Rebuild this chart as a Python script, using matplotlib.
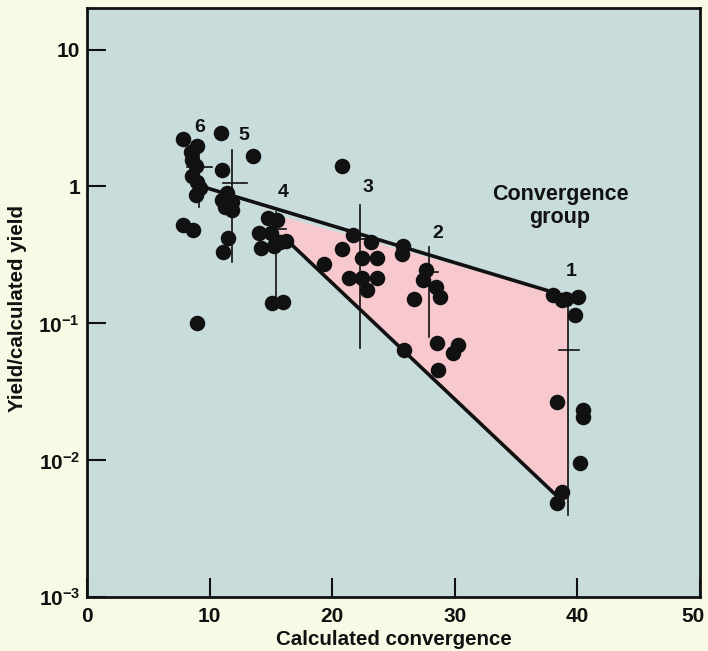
import matplotlib
matplotlib.use("Agg")
import matplotlib.pyplot as plt
import matplotlib.transforms as mtransforms
import numpy as np

plt.rcParams['font.family'] = ['Liberation Sans', 'DejaVu Sans']
plt.rcParams['font.weight'] = 'bold'
plt.rcParams['mathtext.fontset'] = 'custom'
plt.rcParams['mathtext.rm'] = 'Liberation Sans:bold'
plt.rcParams['mathtext.it'] = 'Liberation Sans:bold'
plt.rcParams['mathtext.bf'] = 'Liberation Sans:bold'

# ---- data ----
conv_x = [7.85, 10.91, 8.97, 8.48, 8.56, 8.89, 8.56, 8.97, 9.22, 8.89,
          10.99, 13.56, 11.39, 10.99, 11.80, 11.26, 11.80, 11.53, 11.12,
          7.83, 8.65, 8.95,
          14.76, 15.50, 14.03, 15.01, 16.23, 14.19, 15.25, 15.74, 15.07, 16.01,
          20.77,
          21.72, 23.14, 20.77, 22.41, 23.68, 19.33, 21.39, 22.41, 23.68, 22.81,
          25.80, 25.67, 27.65, 27.43, 28.47, 28.79, 26.67, 28.52, 30.29, 29.83, 28.65, 25.86,
          38.03, 38.72, 40.07, 39.80, 39.06, 38.36, 40.43, 40.43, 40.21, 38.72, 38.31]
yield_ratio = [2.24, 2.44, 1.97, 1.78, 1.56, 1.41, 1.19, 1.07, 0.97, 0.86,
               1.32, 1.66, 0.89, 0.79, 0.77, 0.71, 0.67, 0.42, 0.33,
               0.52, 0.48, 0.10,
               0.59, 0.57, 0.46, 0.46, 0.40, 0.355, 0.366, 0.39, 0.140, 0.144,
               1.41,
               0.44, 0.39, 0.347, 0.30, 0.30, 0.27, 0.213, 0.213, 0.213, 0.175,
               0.37, 0.32, 0.245, 0.207, 0.185, 0.155, 0.150, 0.072, 0.0695, 0.061, 0.0456, 0.0638,
               0.161, 0.148, 0.156, 0.115, 0.150, 0.0268, 0.0233, 0.0208, 0.0095, 0.0059, 0.00485]

groups = ['1', '2', '3', '4', '5', '6']
group_x = [39.21, 27.92, 22.27, 15.42, 11.83, 9.16]
range_low = [0.0040, 0.0798, 0.0657, 0.156, 0.28, 0.71]
range_high = [0.132, 0.362, 0.73, 0.65, 1.84, 1.8]
mean_y = [0.0638, 0.238, 0.41, 0.49, 1.06, 1.39]
mean_left = [38.52, 27.92, 21.9, 14.93, 11.09, 8.13]
mean_right = [40.16, 28.63, 22.7, 16.23, 13.05, 10.17]
label_x = [39.53, 28.65, 22.92, 16.0, 12.83, 9.16]
label_y = [0.238, 0.45, 0.99, 0.90, 2.37, 2.71]

upper_line_x = [9.48, 38.0]
upper_line_y = [0.993, 0.169]
lower_line_x = [16.56, 38.34]
lower_line_y = [0.386, 0.00548]

pink_x = [15.42, 15.42, 38.34, 39.21, 39.21]
pink_y = [0.62, 0.483, 0.00548, 0.0051, 0.157]

x_ticks = [0, 10, 20, 30, 40, 50]
y_ticks = [1e-3, 1e-2, 1e-1, 1, 10]
y_tick_labels = [r'$10^{-3}$', r'$10^{-2}$', r'$10^{-1}$', '1', '10']

# ---- figure ----
W, H = 708, 651
fig = plt.figure(figsize=(W / 100, H / 100), dpi=100)
fig.patch.set_facecolor('#f9fae6')
ax = fig.add_axes([87 / W, 1 - 597.3 / H, (700 - 87) / W, (597.3 - 8.3) / H])
ax.set_facecolor('#c9dcdc')
ax.set_yscale('log')
ax.set_xlim(0, 50)
ax.set_ylim(1e-3, 20)

ax.fill(pink_x, pink_y, color='#f7c9ce', zorder=1, lw=0)

for gx, lo, hi, my, ml, mr in zip(group_x, range_low, range_high, mean_y, mean_left, mean_right):
    ax.plot([gx, gx], [lo, hi], color='#111111', lw=1.2, zorder=2)
    ax.plot([ml, mr], [my, my], color='#111111', lw=1.2, zorder=5)

ax.plot(upper_line_x, upper_line_y, color='#111111', lw=2.6, zorder=3, solid_capstyle='butt')
ax.plot(lower_line_x, lower_line_y, color='#111111', lw=2.6, zorder=3, solid_capstyle='butt')

ax.scatter(conv_x, yield_ratio, s=125, color='#111111', zorder=4, linewidths=0)

for g, lx, ly in zip(groups, label_x, label_y):
    ax.text(lx, ly, g, fontsize=14, fontweight='bold', ha='center', va='center', color='#111111')

ax.text(38.58, 0.72, 'Convergence\ngroup', fontsize=15.5, fontweight='bold', ha='center',
        va='center', color='#111111', linespacing=1.1)

ax.set_xticks(x_ticks)
ax.set_xticklabels([str(t) for t in x_ticks])
ax.set_yticks(y_ticks)
ax.set_yticklabels(y_tick_labels)
ax.minorticks_off()
ax.yaxis.set_minor_locator(matplotlib.ticker.NullLocator())
ax.tick_params(axis='both', direction='in', length=14, width=1.5, labelsize=15, colors='#111111')
ax.tick_params(axis='x', pad=7)
ax.tick_params(axis='y', pad=5)
for lab in ax.get_xticklabels() + ax.get_yticklabels():
    lab.set_fontweight('bold')
# keep the last x label inside the figure
last = ax.get_xticklabels()[-1]
last.set_transform(last.get_transform() + mtransforms.ScaledTranslation(-7 / 100, 0, fig.dpi_scale_trans))
for sp in ax.spines.values():
    sp.set_linewidth(2.0)
    sp.set_color('#111111')

ax.set_xlabel('Calculated convergence', fontsize=14.8, fontweight='bold', labelpad=3, color='#111111')
ax.set_ylabel('Yield/calculated yield', fontsize=14.8, fontweight='bold', color='#111111')
ax.yaxis.set_label_coords(-0.098, 0.49)

fig.savefig('out.png', dpi=100, facecolor=fig.get_facecolor())
